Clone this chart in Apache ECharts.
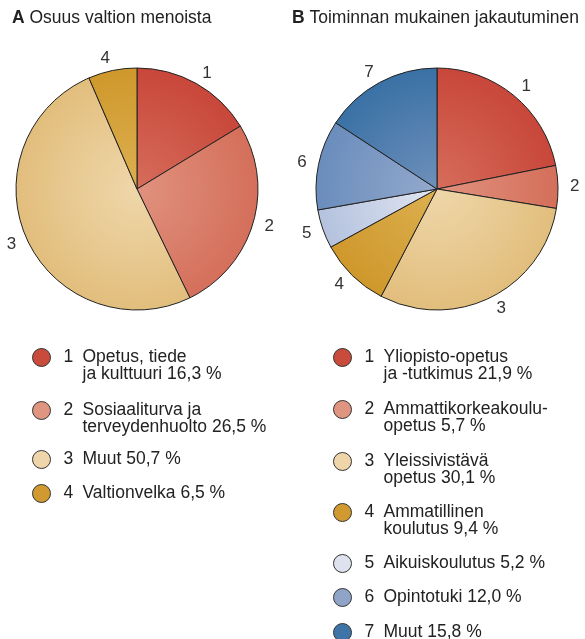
<!DOCTYPE html>
<html><head><meta charset="utf-8">
<script src="https://cdn.jsdelivr.net/npm/echarts@6/dist/echarts.min.js"></script>
<style>html,body{margin:0;padding:0;background:#fff}#c{width:585px;height:639px}</style>
</head><body><div id="c"></div>
<script>
// ---- data ----
const titleA = ['A', 'Osuus valtion menoista'];
const titleB = ['B', 'Toiminnan mukainen jakautuminen'];
const codesA = ['1', '2', '3', '4'];
const namesA = ['Opetus, tiede\nja kulttuuri', 'Sosiaaliturva ja\nterveydenhuolto', 'Muut', 'Valtionvelka'];
const valuesA = [16.3, 26.5, 50.7, 6.5];
const codesB = ['1', '2', '3', '4', '5', '6', '7'];
const namesB = ['Yliopisto-opetus\nja -tutkimus', 'Ammattikorkeakoulu-\nopetus', 'Yleissivistävä\nopetus', 'Ammatillinen\nkoulutus', 'Aikuiskoulutus', 'Opintotuki', 'Muut'];
const valuesB = [21.9, 5.7, 30.1, 9.4, 5.2, 12.0, 15.8];

// ---- styles / layout ----
const colorCenter = ['#d66d5b', '#e0927f', '#efd7aa', '#dcb050', '#e1e6f1', '#94a9cc', '#6f90bb'];
const colorEdge   = ['#c8473a', '#d46f5a', '#e2be7d', '#cf982c', '#b4c2de', '#6a8dbd', '#3a71a5'];
const colorSolid  = ['#c94b3b', '#e09581', '#efd6aa', '#d09a30', '#dde2ee', '#8fa5c8', '#3f74a8'];
const pieA = { cx: 137, cy: 189, r: 121 };
const pieB = { cx: 437, cy: 189, r: 121 };
const legendA = { left: 32, centers: [357, 410, 459, 493] };
const legendB = { left: 333, centers: [357, 409, 461, 512, 563, 597, 632] };
const LH = 17;
const FS = 17.5;
const FONT = 'Liberation Sans, Arial, Helvetica, sans-serif';

function fmt(v) { return v.toFixed(1).replace('.', ',') + ' %'; }

const codeOf = {};
function fullNames(names, values, codes) {
  return names.map((n, i) => { const s = n + ' ' + fmt(values[i]); codeOf[s] = codes[i]; return s; });
}
const fullA = fullNames(namesA, valuesA, codesA);
const fullB = fullNames(namesB, valuesB, codesB);

function grad(i, p) {
  return {
    type: 'radial', x: p.cx, y: p.cy, r: p.r, global: true,
    colorStops: [{ offset: 0, color: colorCenter[i] }, { offset: 1, color: colorEdge[i] }]
  };
}

function pieSeries(full, values, codes, p) {
  return {
    type: 'pie',
    center: [p.cx, p.cy],
    radius: p.r,
    startAngle: 90,
    clockwise: true,
    avoidLabelOverlap: false,
    animation: false,
    emphasis: { scale: false, disabled: true },
    itemStyle: { borderColor: '#222', borderWidth: 1 },
    label: {
      show: true, position: 'outside', fontSize: 17, fontFamily: FONT, color: '#333',
      align: 'center', verticalAlign: 'middle', distanceToLabelLine: 0,
      formatter: (pr) => codes[pr.dataIndex]
    },
    labelLine: { show: false, length: 12, length2: 0 },
    data: full.map((n, i) => ({ name: n, value: values[i], itemStyle: { color: grad(i, p) } }))
  };
}

function legendFormatter(name) {
  const lines = name.split('\n');
  return lines.map((l, i) => (i === 0 ? '{n|' + codeOf[name] + '}' : '{n| }') + '{t|' + l + '}').join('\n');
}

function legends(full, lg) {
  return full.map((n, i) => {
    const nLines = n.split('\n').length;
    const padTop = (nLines - 1) * LH;
    return {
      orient: 'vertical',
      left: lg.left,
      top: lg.centers[i] - 9,
      padding: 0,
      itemWidth: 18,
      itemHeight: 18,
      icon: 'circle',
      selectedMode: false,
      formatter: legendFormatter,
      textStyle: {
        padding: [padTop, 0, 0, 8],
        rich: {
          n: { fontSize: FS, fontFamily: FONT, color: '#222', lineHeight: LH, width: 19 },
          t: { fontSize: FS, fontFamily: FONT, color: '#222', lineHeight: LH }
        }
      },
      data: [{ name: n, itemStyle: { color: colorSolid[i], borderColor: '#333', borderWidth: 1 } }]
    };
  });
}

function titleOf(t, left) {
  return {
    text: '{b|' + t[0] + '} {r|' + t[1] + '}',
    left: left, top: 9, padding: 0,
    textStyle: {
      fontWeight: 'normal', fontSize: FS, fontFamily: FONT,
      rich: {
        b: { fontSize: FS, fontWeight: 'bold', fontFamily: FONT, color: '#222' },
        r: { fontSize: FS, fontWeight: 'normal', fontFamily: FONT, color: '#222' }
      }
    }
  };
}

const chart = echarts.init(document.getElementById('c'), null, { renderer: 'canvas' });
chart.setOption({
  backgroundColor: '#fff',
  animation: false,
  title: [titleOf(titleA, 12), titleOf(titleB, 292)],
  legend: legends(fullA, legendA).concat(legends(fullB, legendB)),
  series: [pieSeries(fullA, valuesA, codesA, pieA), pieSeries(fullB, valuesB, codesB, pieB)]
});
</script></body></html>
